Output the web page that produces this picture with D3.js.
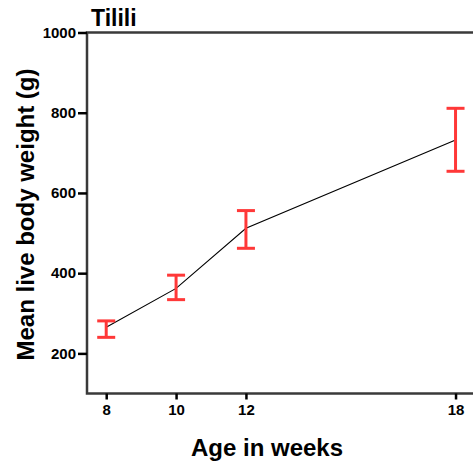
<!DOCTYPE html>
<html>
<head>
<meta charset="utf-8">
<script src="https://cdn.jsdelivr.net/npm/d3@7"></script>
<style>
  body { margin: 0; background: #fff; }
  svg { display: block; font-family: "Liberation Sans", Arial, sans-serif; }
  .tick text { font-weight: bold; fill: #000; }
</style>
</head>
<body>
<div id="chart"></div>
<script>
const weeks = [8, 10, 12, 18];
const meanWeight = [265, 362, 512, 732];
const lowerWeight = [240, 334, 462, 654];
const upperWeight = [281, 395, 556, 811];
const yTicks = [200, 400, 600, 800, 1000];

const data = weeks.map((w, i) => ({
  x: w,
  y: meanWeight[i],
  lo: lowerWeight[i],
  hi: upperWeight[i],
}));

const container_width = 473;
const container_height = 463;
const margin = { top: 32.5, right: 0, bottom: 70, left: 87 };
const width = container_width - margin.left;
const height = 361;

const svg = d3
  .select("#chart")
  .append("svg")
  .attr("width", container_width)
  .attr("height", container_height)
  .append("g")
  .attr("transform", `translate(${margin.left},${margin.top})`);

const x = d3.scaleLinear().domain([7.45, 18.5]).range([0, width]);
const y = d3.scaleLinear().domain([100, 1000]).range([height, 0]);

// panel border (right side runs off the picture)
svg
  .append("rect")
  .attr("x", 0)
  .attr("y", 0)
  .attr("width", width + 20)
  .attr("height", height)
  .attr("fill", "none")
  .attr("stroke", "#3a3a3a")
  .attr("stroke-width", 2.5);

// X axis
const xAxis = svg
  .append("g")
  .attr("transform", `translate(0,${height})`)
  .call(d3.axisBottom(x).tickValues(weeks).tickSize(6).tickPadding(5));
xAxis.select(".domain").remove();
xAxis.selectAll(".tick line").attr("stroke", "#000").attr("stroke-width", 2.5);
xAxis.selectAll(".tick text").attr("font-size", 15);

// Y axis
const yAxis = svg
  .append("g")
  .call(
    d3.axisLeft(y).tickValues(yTicks).tickFormat(d3.format("d")).tickSize(9).tickPadding(2)
  );
yAxis.select(".domain").remove();
yAxis.selectAll(".tick line").attr("stroke", "#000").attr("stroke-width", 2.5);
yAxis.selectAll(".tick text").attr("font-size", 15);

// mean line
const line = d3
  .line()
  .x((d) => x(d.x))
  .y((d) => y(d.y));

svg
  .append("path")
  .datum(data)
  .attr("d", line)
  .attr("fill", "none")
  .attr("stroke", "#000")
  .attr("stroke-width", 1.1);

// error bars
const capW = 9;
const bars = svg.append("g").attr("stroke", "#ff3838").attr("stroke-width", 3);
bars
  .selectAll(".err")
  .data(data)
  .enter()
  .append("line")
  .attr("x1", (d) => x(d.x))
  .attr("x2", (d) => x(d.x))
  .attr("y1", (d) => y(d.lo))
  .attr("y2", (d) => y(d.hi));
bars
  .selectAll(".cap-top")
  .data(data)
  .enter()
  .append("line")
  .attr("x1", (d) => x(d.x) - capW)
  .attr("x2", (d) => x(d.x) + capW)
  .attr("y1", (d) => y(d.hi))
  .attr("y2", (d) => y(d.hi));
bars
  .selectAll(".cap-bottom")
  .data(data)
  .enter()
  .append("line")
  .attr("x1", (d) => x(d.x) - capW)
  .attr("x2", (d) => x(d.x) + capW)
  .attr("y1", (d) => y(d.lo))
  .attr("y2", (d) => y(d.lo));

// titles
svg
  .append("text")
  .attr("x", 4)
  .attr("y", -6.5)
  .attr("font-size", 23)
  .attr("font-weight", "bold")
  .text("Tilili");

svg
  .append("text")
  .attr("text-anchor", "middle")
  .attr("x", 267 - margin.left)
  .attr("y", height + 62)
  .attr("font-size", 24)
  .attr("font-weight", "bold")
  .text("Age in weeks");

svg
  .append("text")
  .attr("text-anchor", "middle")
  .attr("transform", "rotate(-90)")
  .attr("x", -(214.5 - margin.top))
  .attr("y", 34 - margin.left)
  .attr("font-size", 24)
  .attr("font-weight", "bold")
  .text("Mean live body weight (g)");
</script>
</body>
</html>
